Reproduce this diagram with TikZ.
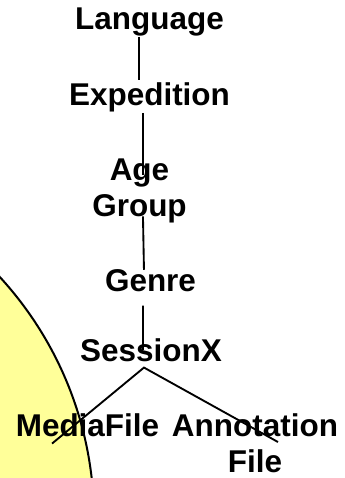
\documentclass[tikz,border=0pt]{standalone}
\usepackage{fontspec}
\setmainfont{Liberation Sans}

\begin{document}
\begin{tikzpicture}[x=0.75pt, y=0.75pt,
		lbl/.style={font=\bfseries\fontsize{23.6}{27}\selectfont, inner sep=0pt, align=center},
		link/.style={line width=1.4pt}]
				\clip (0, 0) rectangle (344, 478);
				\filldraw[fill={rgb,255:red,255;green,255;blue,153}, draw=black, line width=1.5pt] (-264, -41) circle (268.5pt);
				\node[lbl, anchor=base] (lang)at(149.5, 448) {Language};
				\node[lbl, anchor=base] (exped)at(149.5, 372) {Expedition};
				\node[lbl] (age)at(139.5, 287.2) {Age\\Group};
				\node[lbl, anchor=base] (genre)at(150.5, 186) {Genre};
				\node[lbl, anchor=base] (sess)at(151, 116) {SessionX};
				\node[lbl, anchor=base] (media)at(87.5, 41) {MediaFile};
				\node[lbl] (annot)at(255, 34.3) {Annotation\\File};
				\draw[link] ([xshift=-7.9pt]lang.south) -- ([xshift=-7.9pt, yshift=2.25pt]exped.north);
				\draw[link] ([xshift=-4.9pt]exped.south) -- ([xshift=2.6pt, yshift=-12.75pt]age.north);
				\draw[link] ([xshift=2.6pt, yshift=5pt]age.south) -- ([xshift=-4.9pt]genre.north);
				\draw[link] ([xshift=-5.6pt, yshift=-9.75pt]genre.south) -- ([xshift=-6pt, yshift=-8.25pt]sess.north);
				\draw[link] ([xshift=-26.6pt, yshift=-4.5pt]media.south) -- ([xshift=-5.25pt, yshift=-3.75pt]sess.south) -- ([xshift=17.25pt, yshift=1.25pt]annot.center);
			\end{tikzpicture}
\end{document}
